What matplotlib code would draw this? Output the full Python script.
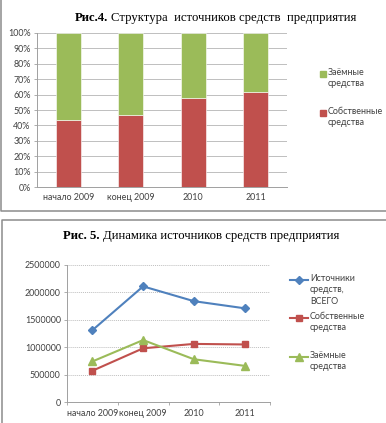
import matplotlib

matplotlib.use("Agg")

import matplotlib.pyplot as plt
from matplotlib.lines import Line2D
import numpy as np

CATEGORIES = ["начало 2009", "конец 2009", "2010", "2011"]
OWN = [570000, 980000, 1060000, 1050000]
BORROWED = [740000, 1130000, 780000, 660000]
TOTAL = [1310000, 2110000, 1840000, 1710000]

PCT_TICKS = [f"{p}%" for p in range(0, 101, 10)]
ABS_TICKS = [0, 500000, 1000000, 1500000, 2000000, 2500000]

BAR_LABELS = ["Заёмные\nсредства", "Собственные\nсредства"]
LINE_LABELS = ["Источники\nсредств,\nВСЕГО", "Собственные\nсредства", "Заёмные\nсредства"]

RED = "#C0504D"
GREEN = "#9BBB59"
BLUE = "#4F81BD"
GRID = "#BFBFBF"
TICK = "#404040"

W, H = 386, 423

plt.rcParams.update({"font.family": ["Lato", "DejaVu Sans"], "font.size": 6.4})


def px_box(left, top, right, bottom):
    return [left / W, 1 - bottom / H, (right - left) / W, (bottom - top) / H]


def fx(v):
    return v / W


def fy(v):
    return 1 - v / H


def frame_line(fig, xs, ys):
    fig.add_artist(Line2D([fx(v) for v in xs], [fy(v) for v in ys], transform=fig.transFigure,
                          color="#8C8C8C", linewidth=1.1))


def title(fig, x_px, y_px, bold, rest):
    t1 = fig.text(fx(x_px), fy(y_px), bold, family="Liberation Serif",
                  weight="bold", fontsize=9.2, va="center", ha="left")
    fig.canvas.draw()
    bb = t1.get_window_extent()
    fig.text(bb.x1 / W + 3 / W, fy(y_px), rest, family="Liberation Serif",
             fontsize=9.2, va="center", ha="left")


def legend_entry(fig, handle_xs, y_px, text_x, label, **style):
    fig.add_artist(Line2D([fx(v) for v in handle_xs], [fy(y_px)] * len(handle_xs),
                          transform=fig.transFigure, **style))
    fig.text(fx(text_x), fy(y_px - 6), label, va="top", ha="left", fontsize=6.4,
             color=TICK, linespacing=1.35)


def style_axes(ax):
    for side in ("top", "right"):
        ax.spines[side].set_visible(False)
    for side in ("left", "bottom"):
        ax.spines[side].set_color("#A0A0A0")
        ax.spines[side].set_linewidth(0.7)
    ax.tick_params(colors="#A0A0A0", labelcolor=TICK, length=2.5, width=0.6, pad=2)
    ax.set_axisbelow(True)


fig = plt.figure(figsize=(W / 100, H / 100), dpi=100)
fig.patch.set_facecolor("white")

# panel frames (only the visible edges)
frame_line(fig, [0.6, 0.6, 386], [-5, 211, 211])
frame_line(fig, [386, 1.5, 1.5], [220, 220, 430])

# --- Рис.4: stacked 100% bars
x = np.arange(len(CATEGORIES))
own = np.array(OWN, dtype=float)
borrowed = np.array(BORROWED, dtype=float)
total = own + borrowed
own_pct = own / total * 100
borrowed_pct = borrowed / total * 100

ax1 = fig.add_axes(px_box(37, 33, 287, 187))
style_axes(ax1)
ax1.bar(x, own_pct, width=0.4, color=RED, edgecolor="white", linewidth=0.4)
ax1.bar(x, borrowed_pct, bottom=own_pct, width=0.4, color=GREEN, edgecolor="white", linewidth=0.4)
ax1.set_xlim(-0.5, len(CATEGORIES) - 0.5)
ax1.set_ylim(0, 100)
ax1.set_yticks(np.arange(0, 101, 10))
ax1.set_yticklabels(PCT_TICKS)
ax1.set_xticks(x)
ax1.set_xticklabels(CATEGORIES)
ax1.tick_params(axis="x", length=0, pad=4)
ax1.grid(axis="y", color=GRID, linewidth=0.7)

legend_entry(fig, [323], 74, 328, BAR_LABELS[0], linestyle="none", marker="s",
             markersize=4, color=GREEN)
legend_entry(fig, [323], 113, 328, BAR_LABELS[1], linestyle="none", marker="s",
             markersize=4, color=RED)

title(fig, 75, 18, "Рис.4.", "Структура  источников средств  предприятия")

# --- Рис. 5: lines
ax2 = fig.add_axes(px_box(67, 265, 270, 402))
style_axes(ax2)
ax2.plot(x, TOTAL, color=BLUE, linewidth=1.5, marker="D", markersize=4.2)
ax2.plot(x, OWN, color=RED, linewidth=1.5, marker="s", markersize=5)
ax2.plot(x, BORROWED, color=GREEN, linewidth=1.5, marker="^", markersize=5.2)
ax2.set_xlim(-0.5, len(CATEGORIES) - 0.5)
ax2.set_ylim(0, 2500000)
ax2.set_yticks(ABS_TICKS)
ax2.set_yticklabels([str(v) for v in ABS_TICKS])
ax2.set_xticks(np.arange(-0.5, len(CATEGORIES), 1), minor=True)
ax2.set_xticks(x)
ax2.set_xticklabels(CATEGORIES)
ax2.tick_params(axis="x", which="major", length=0, pad=5)
ax2.tick_params(axis="x", which="minor", length=2.5, width=0.6, colors="#A0A0A0")
ax2.grid(axis="y", color=GRID, linewidth=0.7, linestyle=(0, (1, 1)))

legend_entry(fig, [290, 299, 308], 280, 310, LINE_LABELS[0], color=BLUE, linewidth=1.5,
             marker="D", markersize=4.2, markevery=[1])
legend_entry(fig, [290, 299, 308], 318, 310, LINE_LABELS[1], color=RED, linewidth=1.5,
             marker="s", markersize=5, markevery=[1])
legend_entry(fig, [290, 299, 308], 357, 310, LINE_LABELS[2], color=GREEN, linewidth=1.5,
             marker="^", markersize=5.2, markevery=[1])

title(fig, 63, 236, "Рис. 5.", "Динамика источников средств предприятия")

fig.savefig("out.png", dpi=100)
